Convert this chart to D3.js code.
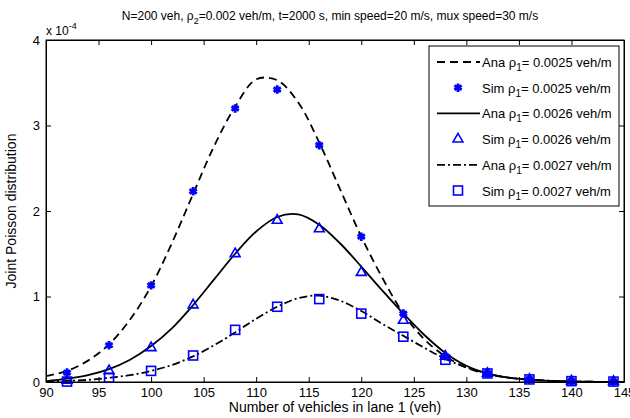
<!DOCTYPE html>
<html lang="en">
<head>
    <meta charset="UTF-8">
    <title>Joint Poisson distribution</title>
    <script src="https://d3js.org/d3.v7.min.js"></script>
    <style>
        body {
            margin: 0;
            background: #fff;
            font-family: Arial, "Liberation Sans", sans-serif;
        }
        .axis text { font-size: 13px; fill: #000; }
        .axis path, .axis line { stroke: #000; }
    </style>
</head>
<body>
<div id="chart"></div>
<script>
    // values in units of 1e-4
    const anaX = [90, 92, 94, 96, 98, 100, 102, 104, 106, 108, 110, 112, 114, 116, 118, 120, 122, 124, 126, 128, 130, 132, 134, 136, 138, 140, 142, 144, 145];
    const ana25 = [0.07, 0.13, 0.25, 0.44, 0.73, 1.12, 1.63, 2.2, 2.76, 3.22, 3.54, 3.53, 3.27, 2.8, 2.25, 1.70, 1.22, 0.8, 0.5, 0.3, 0.17, 0.09, 0.05, 0.025, 0.012, 0.006, 0.003, 0.001, 0.001];
    const ana26 = [0.01, 0.04, 0.08, 0.15, 0.26, 0.42, 0.63, 0.9, 1.2, 1.5, 1.76, 1.93, 1.96, 1.84, 1.62, 1.35, 1.07, 0.8, 0.55, 0.34, 0.19, 0.1, 0.05, 0.025, 0.012, 0.005, 0.002, 0.001, 0];
    const ana27 = [0.005, 0.012, 0.025, 0.05, 0.08, 0.13, 0.2, 0.3, 0.43, 0.58, 0.74, 0.88, 0.98, 1.01, 0.95, 0.83, 0.68, 0.54, 0.4, 0.27, 0.17, 0.1, 0.05, 0.03, 0.015, 0.007, 0.003, 0.001, 0];

    const simX = [92, 96, 100, 104, 108, 112, 116, 120, 124, 128, 132, 136, 140, 144];
    const sim25 = [0.11, 0.43, 1.13, 2.23, 3.2, 3.42, 2.77, 1.70, 0.80, 0.30, 0.10, 0.03, 0.01, 0.005];
    const sim26 = [0.02, 0.13, 0.40, 0.9, 1.5, 1.89, 1.79, 1.28, 0.72, 0.30, 0.10, 0.03, 0.01, 0.005];
    const sim27 = [0.005, 0.05, 0.13, 0.31, 0.61, 0.88, 0.97, 0.80, 0.53, 0.26, 0.10, 0.03, 0.01, 0.005];

    const xTicks = [90, 95, 100, 105, 110, 115, 120, 125, 130, 135, 140, 145];
    const yTicks = [0, 1, 2, 3, 4];
    const densities = ["0.0025", "0.0026", "0.0027"];

    const W = 630, H = 418;
    const margin = {top: 40, right: 6, bottom: 36, left: 46};
    const width = W - margin.left - margin.right;
    const height = H - margin.top - margin.bottom;

    const svg = d3.select("#chart").append("svg")
        .attr("width", W)
        .attr("height", H);

    const g = svg.append("g")
        .attr("transform", `translate(${margin.left},${margin.top})`);

    const x = d3.scaleLinear().domain([90, 145]).range([0, width]);
    const y = d3.scaleLinear().domain([0, 4]).range([height, 0]);

    // axes with inward ticks (top/right mirrored)
    g.append("g").attr("class", "axis")
        .attr("transform", `translate(0,${height})`)
        .call(d3.axisBottom(x).tickValues(xTicks).tickSize(-5).tickPadding(6).tickSizeOuter(0));
    g.append("g").attr("class", "axis")
        .call(d3.axisTop(x).tickValues(xTicks).tickSize(-5).tickFormat("").tickSizeOuter(0));
    g.append("g").attr("class", "axis")
        .call(d3.axisLeft(y).tickValues(yTicks).tickFormat(d3.format("d")).tickSize(-5).tickPadding(6).tickSizeOuter(0))
        .selectAll("text").attr("font-size", 14);
    g.append("g").attr("class", "axis")
        .attr("transform", `translate(${width},0)`)
        .call(d3.axisRight(y).tickValues(yTicks).tickSize(-5).tickFormat("").tickSizeOuter(0));

    const series = [
        {ana: ana25, sim: sim25, dash: "8,5", symbol: "star"},
        {ana: ana26, sim: sim26, dash: null, symbol: "triangle"},
        {ana: ana27, sim: sim27, dash: "8,3,2,3", symbol: "square"}
    ];

    const line = d3.line()
        .x(d => x(d[0]))
        .y(d => y(d[1]))
        .curve(d3.curveCatmullRom.alpha(0.5));

    series.forEach(s => {
        g.append("path")
            .datum(anaX.map((v, i) => [v, s.ana[i]]))
            .attr("fill", "none")
            .attr("stroke", "#000")
            .attr("stroke-width", 1.8)
            .attr("stroke-dasharray", s.dash)
            .attr("d", line);
    });

    function drawMarker(sel, type, cx, cy) {
        if (type === "star") {
            sel.append("path")
                .attr("d", d3.symbol(d3.symbolAsterisk, 50)())
                .attr("transform", `translate(${cx},${cy})`)
                .attr("fill", "none")
                .attr("stroke", "#0000ff")
                .attr("stroke-width", 2.8);
        } else if (type === "triangle") {
            sel.append("path")
                .attr("d", d3.symbol(d3.symbolTriangle, 42)())
                .attr("transform", `translate(${cx},${cy})`)
                .attr("fill", "none")
                .attr("stroke", "#0000ff")
                .attr("stroke-width", 1.6);
        } else {
            sel.append("rect")
                .attr("x", cx - 4.5).attr("y", cy - 4.5)
                .attr("width", 9).attr("height", 9)
                .attr("fill", "none")
                .attr("stroke", "#0000ff")
                .attr("stroke-width", 1.6);
        }
    }

    series.forEach(s => {
        simX.forEach((v, i) => drawMarker(g, s.symbol, x(v), y(s.sim[i])));
    });

    // plot frame
    g.append("rect")
        .attr("width", width).attr("height", height)
        .attr("fill", "none").attr("stroke", "#000").attr("stroke-width", 1);

    // legend
    const lg = svg.append("g").attr("transform", "translate(429,46)");
    lg.append("rect")
        .attr("width", 190).attr("height", 160)
        .attr("fill", "#fff").attr("stroke", "#000").attr("stroke-width", 1);

    const rows = [];
    series.forEach((s, i) => {
        rows.push({kind: "Ana", d: densities[i], s: s});
        rows.push({kind: "Sim", d: densities[i], s: s});
    });
    rows.forEach((r, i) => {
        const ry = 16 + i * 25.7;
        if (r.kind === "Ana") {
            lg.append("line")
                .attr("x1", 8).attr("x2", 51).attr("y1", ry).attr("y2", ry)
                .attr("stroke", "#000").attr("stroke-width", 1.8)
                .attr("stroke-dasharray", r.s.dash);
        } else {
            drawMarker(lg, r.s.symbol, 29, ry);
        }
        const t = lg.append("text")
            .attr("x", 53).attr("y", ry + 5)
            .attr("font-size", 13);
        t.append("tspan").text(`${r.kind} ρ`);
        t.append("tspan").attr("font-size", 10).attr("dy", 4).text("1");
        t.append("tspan").attr("dy", -4).text(`= ${r.d} veh/m`);
    });

    // title
    const title = svg.append("text")
        .attr("x", 330).attr("y", 20)
        .attr("text-anchor", "middle")
        .attr("font-size", 12);
    title.append("tspan").text("N=200 veh, ρ");
    title.append("tspan").attr("font-size", 9).attr("dy", 4).text("2");
    title.append("tspan").attr("dy", -4).text("=0.002 veh/m, t=2000 s, min speed=20 m/s, mux speed=30 m/s");

    // exponent
    const ex = svg.append("text")
        .attr("x", 46).attr("y", 35)
        .attr("font-size", 12);
    ex.append("tspan").text("x 10");
    ex.append("tspan").attr("font-size", 9).attr("dy", -6).text("-4");

    // axis labels
    svg.append("text")
        .attr("x", margin.left + width / 2).attr("y", 412)
        .attr("text-anchor", "middle")
        .attr("font-size", 14)
        .text("Number of vehicles in lane 1 (veh)");
    svg.append("text")
        .attr("transform", `translate(16,${margin.top + height / 2}) rotate(-90)`)
        .attr("text-anchor", "middle")
        .attr("font-size", 14)
        .text("Joint Poisson distribution");
</script>
</body>
</html>
